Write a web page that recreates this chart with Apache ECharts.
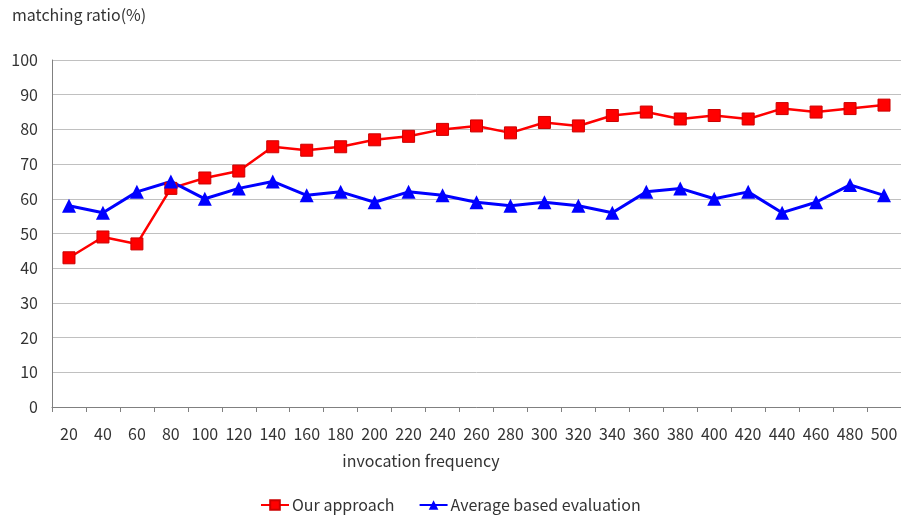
<!DOCTYPE html>
<html><head><meta charset="utf-8">
<script src="https://cdn.jsdelivr.net/npm/echarts@6/dist/echarts.min.js"></script>
<style>html,body{margin:0;padding:0;background:#fff}#c{width:901px;height:515px}</style>
</head><body><div id="c"></div>
<script>
var categories = ['20','40','60','80','100','120','140','160','180','200','220','240','260','280','300','320','340','360','380','400','420','440','460','480','500'];
var ourApproach = [43,49,47,63,66,68,75,74,75,77,78,80,81,79,82,81,84,85,83,84,83,86,85,86,87];
var averageBased = [58,56,62,65,60,63,65,61,62,59,62,61,59,58,59,58,56,62,63,60,62,56,59,64,61];
var yTicks = [0,10,20,30,40,50,60,70,80,90,100];

var FONT = '"Noto Sans CJK KR", "Noto Sans", sans-serif';
var chart = echarts.init(document.getElementById('c'));
chart.setOption({
  animation: false,
  textStyle: {fontFamily: FONT},
  grid: {left: 52, top: 60, width: 850, bottom: 108, containLabel: false},
  legend: {
    left: 260, top: 497, padding: 0, itemWidth: 28, itemHeight: 12, itemGap: 24,
    textStyle: {fontFamily: FONT, fontSize: 16, color: '#333', padding: [0, 0, 0, -2]},
    data: ['Our approach', 'Average based evaluation']
  },
  graphic: [
    {type: 'text', left: 12, top: 7, style: {text: 'matching ratio(%)', font: '16px ' + FONT, fill: '#333'}},
    {type: 'text', x: 421, y: 461, style: {text: 'invocation frequency', font: '16px ' + FONT, fill: '#333', align: 'center', verticalAlign: 'middle'}}
  ],
  xAxis: {
    type: 'category', data: categories, boundaryGap: true,
    axisLine: {lineStyle: {color: '#808080', width: 1}},
    axisTick: {show: true, inside: false, length: 5, lineStyle: {color: '#808080'}},
    axisLabel: {fontSize: 16, color: '#333', margin: 19, interval: 0}
  },
  yAxis: {
    type: 'value', min: 0, max: 100, interval: 10,
    axisLine: {show: true, lineStyle: {color: '#808080'}},
    axisTick: {show: false},
    axisLabel: {fontSize: 16, color: '#333', margin: 14},
    splitLine: {lineStyle: {color: '#c0c0c0', width: 1}}
  },
  series: [
    {name: 'Our approach', type: 'line', data: ourApproach,
     symbol: 'rect', symbolSize: 12,
     lineStyle: {color: '#ff0000', width: 2.5},
     itemStyle: {color: '#ff0000', borderColor: '#cc0000', borderWidth: 1}},
    {name: 'Average based evaluation', type: 'line', data: averageBased,
     symbol: 'triangle', symbolSize: 14,
     lineStyle: {color: '#0000ff', width: 3},
     itemStyle: {color: '#0000ff', borderColor: '#0000ff', borderWidth: 0}}
  ]
});
</script></body></html>
